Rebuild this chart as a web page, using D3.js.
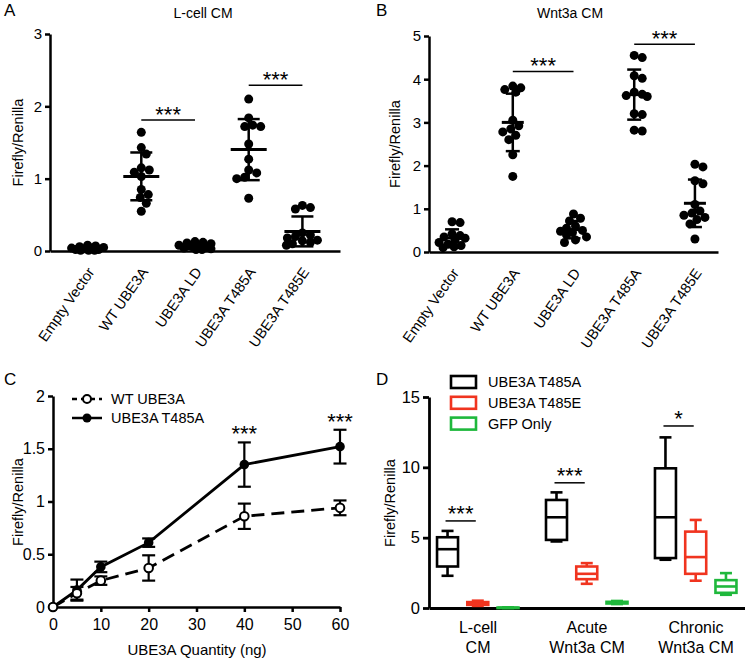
<!DOCTYPE html>
<html><head><meta charset="utf-8">
<script src="https://cdn.jsdelivr.net/npm/d3@7"></script>
<style>
body{margin:0;background:#fff;}
svg{display:block;font-family:"Liberation Sans",Arial,Helvetica,sans-serif;}
svg text{font-family:"Liberation Sans",Arial,Helvetica,sans-serif;}
</style></head><body>
<svg id="chart" width="745" height="659"></svg>
<script>
// ---------------- DATA ----------------
const categories = ["Empty Vector","WT UBE3A","UBE3A LD","UBE3A T485A","UBE3A T485E"];
// Panel A: L-cell CM
const lcellEmpty  = [0.08,0.07,0.06,0.05,0.04,0.04,0.03,0.02,0.02,0.01,0.01,0.01];
const lcellWT     = [1.64,1.43,1.34,1.15,1.12,1.09,1.03,0.85,0.78,0.74,0.66,0.55];
const lcellLD     = [0.13,0.12,0.11,0.10,0.08,0.07,0.06,0.05,0.04,0.03,0.02,0.02];
const lcellT485A  = [2.10,1.84,1.74,1.72,1.72,1.48,1.27,1.12,1.08,1.02,1.00,0.73];
const lcellT485E  = [0.63,0.60,0.58,0.25,0.22,0.20,0.18,0.15,0.14,0.12,0.10,0.08];
const aTicks = [0,1,2,3];
const aSigPairs = [["WT UBE3A","UBE3A LD"],["UBE3A T485A","UBE3A T485E"]];
const aSigLevels = [1.81, 2.29];
// Panel B: Wnt3a CM
const wntEmpty  = [0.70,0.68,0.42,0.38,0.35,0.32,0.28,0.22,0.18,0.15,0.12,0.10];
const wntWT     = [3.84,3.80,3.76,3.70,3.05,2.92,2.85,2.78,2.70,2.60,2.25,1.75];
const wntLD     = [0.88,0.78,0.72,0.60,0.55,0.50,0.48,0.45,0.40,0.35,0.28,0.22];
const wntT485A  = [4.55,4.50,4.08,4.02,3.70,3.65,3.62,3.60,3.20,3.18,2.82,2.80];
const wntT485E  = [2.03,1.97,1.65,1.58,1.10,0.95,0.90,0.85,0.80,0.75,0.65,0.30];
const bTicks = [0,1,2,3,4,5];
const bSigPairs = [["WT UBE3A","UBE3A LD"],["UBE3A T485A","UBE3A T485E"]];
const bSigLevels = [4.18, 4.81];
// Panel C: dose response (mean ± SEM)
const quantities = [0,5,10,20,40,60];
const wtMean    = [0,0.13,0.25,0.37,0.86,0.94];
const wtErr     = [0,0.06,0.04,0.12,0.12,0.07];
const t485aMean = [0,0.16,0.38,0.61,1.35,1.52];
const t485aErr  = [0,0.10,0.05,0.04,0.21,0.16];
const cXTicks = [0,10,20,30,40,50,60];
const cYTicks = [0,0.5,1,1.5,2];
const cSigQuantities = [40,60];
const cSeriesNames = ["WT UBE3A","UBE3A T485A"];
// Panel D: box plots [min, q1, median, q3, max]
const dCategories = ["L-cell CM","Acute Wnt3a CM","Chronic Wnt3a CM"];
const dLabelLines = [["L-cell","CM"],["Acute","Wnt3a CM"],["Chronic","Wnt3a CM"]];
const dSeries = ["UBE3A T485A","UBE3A T485E","GFP Only"];
const dColors = ["#000000","#f0341f","#1fb83c"];
const dT485A = [[2.29,2.95,4.18,5.03,5.48],[4.73,4.84,6.45,7.68,8.22],[3.43,3.55,6.45,9.93,12.13]];
const dT485E = [[0.15,0.22,0.32,0.42,0.52],[1.72,2.05,2.43,2.95,3.19],[1.94,2.43,3.62,5.43,6.26]];
const dGFP   = [[0.00,0.01,0.02,0.03,0.05],[0.28,0.32,0.38,0.44,0.50],[0.94,1.08,1.53,1.98,2.48]];
const dYTicks = [0,5,10,15];
const dSigLabels = ["***","***","*"];
const dSigLevels = [6.19, 8.9, 12.94];

// ---------------- DRAW ----------------
const svg = d3.select("#chart");
svg.append("rect").attr("width",745).attr("height",659).attr("fill","#fff");
const R = 4.5;
const fmt = d => String(d);

function styleAxis(g, sw, fs){
  g.attr("font-family",null).attr("font-size",null);
  g.select(".domain").attr("stroke","#000").attr("stroke-width",sw);
  g.selectAll(".tick line").attr("stroke","#000").attr("stroke-width",sw);
  g.selectAll(".tick text").attr("font-size",fs).attr("fill","#000");
}

function swarm(vals, y, r, maxOff){
  const placed = [];
  const out = new Array(vals.length);
  const order = vals.map((v,i)=>i).sort((a,b)=>vals[b]-vals[a]);
  const minD = r*1.75;
  const cands = [0];
  for(let k=1;k<=maxOff;k++){cands.push(k,-k);}
  for(const i of order){
    const py = y(vals[i]);
    let best=0, bestD=-1, chosen=null;
    for(const c of cands){
      let d = Infinity;
      for(const p of placed){ d = Math.min(d, Math.hypot(c-p[0], py-p[1])); }
      if(d>=minD){chosen=c;break;}
      if(d>bestD){bestD=d;best=c;}
    }
    if(chosen===null) chosen=best;
    placed.push([chosen,py]);
    out[i]=chosen;
  }
  return out;
}

function scatterPanel(cfg){
  const g = svg.append("g");
  const x = d3.scalePoint().domain(categories).range(cfg.xRange).padding(cfg.pad);
  const y = d3.scaleLinear().domain([0,d3.max(cfg.ticks)]).range(cfg.yRange);
  const ya = g.append("g").attr("transform",`translate(${cfg.xRange[0]},0)`)
    .call(d3.axisLeft(y).tickValues(cfg.ticks).tickFormat(fmt).tickSize(5).tickSizeOuter(0).tickPadding(3));
  styleAxis(ya,2.5,15);
  const xa = g.append("g").attr("transform",`translate(0,${y(0)})`)
    .call(d3.axisBottom(x).tickSize(0).tickSizeOuter(0));
  styleAxis(xa,2.5,14.5);
  xa.selectAll(".tick text").attr("x",0).attr("y",0).attr("dy",0)
    .attr("text-anchor","end").attr("transform","translate(7,21) rotate(-55)");
  cfg.groups.forEach((vals,gi)=>{
    const cat = categories[gi];
    const cx = x(cat);
    const offs = swarm(vals,y,R,cfg.maxOff);
    g.append("g").selectAll("circle").data(vals).join("circle")
      .attr("cx",(d,i)=>cx+offs[i]).attr("cy",d=>y(d)).attr("r",R).attr("fill","#000");
    const m = d3.mean(vals), s = d3.deviation(vals);
    const lo = Math.max(m-s, 0), hi = m+s;
    const eg = g.append("g").attr("stroke","#000").attr("stroke-width",2.5);
    eg.append("line").attr("x1",cx).attr("x2",cx).attr("y1",y(lo)).attr("y2",y(hi));
    eg.append("line").attr("x1",cx-cfg.capHalf).attr("x2",cx+cfg.capHalf).attr("y1",y(lo)).attr("y2",y(lo));
    eg.append("line").attr("x1",cx-cfg.capHalf).attr("x2",cx+cfg.capHalf).attr("y1",y(hi)).attr("y2",y(hi));
    eg.append("line").attr("x1",cx-cfg.meanHalf).attr("x2",cx+cfg.meanHalf).attr("y1",y(m)).attr("y2",y(m)).attr("stroke-width",3);
  });
  cfg.sigPairs.forEach((p,i)=>{
    const x1 = x(p[0]), x2 = x(p[1]), yy = y(cfg.sigLevels[i]);
    g.append("line").attr("x1",x1).attr("x2",x2).attr("y1",yy).attr("y2",yy).attr("stroke","#000").attr("stroke-width",1.5);
    g.append("text").attr("x",(x1+x2)/2).attr("y",yy+2).attr("text-anchor","middle").attr("font-size",22).text("***");
  });
  g.append("text").attr("x",cfg.titleX).attr("y",18).attr("text-anchor","middle").attr("font-size",14).text(cfg.title);
  g.append("text").attr("transform",`translate(${cfg.ylabX},${(cfg.yRange[0]+cfg.yRange[1])/2}) rotate(-90)`)
    .attr("text-anchor","middle").attr("font-size",14.5).text("Firefly/Renilla");
  g.append("text").attr("x",cfg.letterX).attr("y",16).attr("font-size",17).text(cfg.letter);
}

scatterPanel({groups:[lcellEmpty,lcellWT,lcellLD,lcellT485A,lcellT485E], ticks:aTicks,
  xRange:[50,340], yRange:[251,34], pad:0.7, maxOff:16, meanHalf:18, capHalf:11,
  sigPairs:aSigPairs, sigLevels:aSigLevels, title:"L-cell CM", titleX:203, ylabX:23, letterX:4, letter:"A"});
scatterPanel({groups:[wntEmpty,wntWT,wntLD,wntT485A,wntT485E], ticks:bTicks,
  xRange:[429,718], yRange:[252,36], pad:0.38, maxOff:13, meanHalf:11, capHalf:7,
  sigPairs:bSigPairs, sigLevels:bSigLevels, title:"Wnt3a CM", titleX:570, ylabX:400, letterX:376, letter:"B"});

// ---------------- PANEL C ----------------
(function(){
  const g = svg.append("g");
  const x = d3.scaleLinear().domain([0,60]).range([53,340]);
  const y = d3.scaleLinear().domain([0,2]).range([607,396]);
  const ya = g.append("g").attr("transform","translate(53,0)")
    .call(d3.axisLeft(y).tickValues(cYTicks).tickFormat(fmt).tickSize(5).tickSizeOuter(0).tickPadding(3));
  styleAxis(ya,2.5,16);
  const xa = g.append("g").attr("transform","translate(0,607)")
    .call(d3.axisBottom(x).tickValues(cXTicks).tickFormat(fmt).tickSize(5).tickSizeOuter(0).tickPadding(7));
  styleAxis(xa,2.5,16);
  const series = [
    {name:cSeriesNames[0], mean:wtMean, err:wtErr, dash:"13,7", open:true},
    {name:cSeriesNames[1], mean:t485aMean, err:t485aErr, dash:null, open:false}
  ];
  const line = d3.line().x(d=>x(d[0])).y(d=>y(d[1]));
  series.slice().reverse().forEach(s=>{
    g.append("path").datum(quantities.map((q,i)=>[q,s.mean[i]])).attr("d",line)
      .attr("fill","none").attr("stroke","#000").attr("stroke-width",2.8).attr("stroke-dasharray",s.dash);
  });
  series.forEach(s=>{
    const eg = g.append("g").attr("stroke","#000").attr("stroke-width",2.2);
    quantities.forEach((q,i)=>{
      if(s.err[i]<=0) return;
      const cx=x(q), lo=y(s.mean[i]-s.err[i]), hi=y(s.mean[i]+s.err[i]);
      eg.append("line").attr("x1",cx).attr("x2",cx).attr("y1",lo).attr("y2",hi);
      eg.append("line").attr("x1",cx-6.5).attr("x2",cx+6.5).attr("y1",lo).attr("y2",lo);
      eg.append("line").attr("x1",cx-6.5).attr("x2",cx+6.5).attr("y1",hi).attr("y2",hi);
    });
  });
  series.slice().reverse().forEach(s=>{
    g.append("g").selectAll("circle").data(quantities).join("circle")
      .attr("cx",d=>x(d)).attr("cy",(d,i)=>y(s.mean[i])).attr("r",s.open?4.3:4.8)
      .attr("fill",s.open?"#fff":"#000").attr("stroke","#000").attr("stroke-width",s.open?2:0);
  });
  cSigQuantities.forEach(q=>{
    const i = quantities.indexOf(q);
    const top = Math.max(t485aMean[i]+t485aErr[i], wtMean[i]+wtErr[i]);
    g.append("text").attr("x",x(q)).attr("y",y(top)-1).attr("text-anchor","middle").attr("font-size",22).text("***");
  });
  series.forEach((s,i)=>{
    const ly = 399 + i*19;
    g.append("line").attr("x1",72).attr("x2",102).attr("y1",ly).attr("y2",ly).attr("stroke","#000")
      .attr("stroke-width",2.5).attr("stroke-dasharray",s.dash?"5,4":null);
    g.append("circle").attr("cx",87).attr("cy",ly).attr("r",s.open?4:4.5).attr("fill",s.open?"#fff":"#000")
      .attr("stroke","#000").attr("stroke-width",s.open?2:0);
    g.append("text").attr("x",111).attr("y",ly+5).attr("font-size",14.5).text(s.name);
  });
  g.append("text").attr("x",197).attr("y",655).attr("text-anchor","middle").attr("font-size",15).text("UBE3A Quantity (ng)");
  g.append("text").attr("transform","translate(23,502) rotate(-90)").attr("text-anchor","middle").attr("font-size",14.5).text("Firefly/Renilla");
  g.append("text").attr("x",4).attr("y",385).attr("font-size",17).text("C");
})();

// ---------------- PANEL D ----------------
(function(){
  const g = svg.append("g");
  const x = d3.scalePoint().domain(dCategories).range([429,745]).padding(0.45);
  const xs = d3.scalePoint().domain(dSeries).range([-30.5,30]);
  const y = d3.scaleLinear().domain([0,15]).range([608,397]);
  const ya = g.append("g").attr("transform","translate(429,0)")
    .call(d3.axisLeft(y).tickValues(dYTicks).tickFormat(fmt).tickSize(6).tickSizeOuter(0).tickPadding(3));
  styleAxis(ya,2.8,16.5);
  const xa = g.append("g").attr("transform","translate(0,608)")
    .call(d3.axisBottom(x).tickSize(0).tickSizeOuter(0).tickFormat(""));
  styleAxis(xa,2.8,16);
  dCategories.forEach((c,i)=>{
    dLabelLines[i].forEach((t,j)=>{
      g.append("text").attr("x",x(c)).attr("y",633+j*20).attr("text-anchor","middle").attr("font-size",16).text(t);
    });
  });
  const boxes = [dT485A,dT485E,dGFP];
  const bw = 21, cap = 6;
  boxes.forEach((arr,si)=>{
    const col = dColors[si];
    arr.forEach((st,ci)=>{
      const cx = x(dCategories[ci]) + xs(dSeries[si]);
      const bg = g.append("g").attr("stroke",col).attr("stroke-width",2.6).attr("fill","none");
      bg.append("line").attr("x1",cx).attr("x2",cx).attr("y1",y(st[0])).attr("y2",y(st[1]));
      bg.append("line").attr("x1",cx).attr("x2",cx).attr("y1",y(st[3])).attr("y2",y(st[4]));
      bg.append("line").attr("x1",cx-cap).attr("x2",cx+cap).attr("y1",y(st[0])).attr("y2",y(st[0]));
      bg.append("line").attr("x1",cx-cap).attr("x2",cx+cap).attr("y1",y(st[4])).attr("y2",y(st[4]));
      bg.append("rect").attr("x",cx-bw/2).attr("width",bw).attr("y",y(st[3])).attr("height",Math.max(y(st[1])-y(st[3]),0.5));
      bg.append("line").attr("x1",cx-bw/2).attr("x2",cx+bw/2).attr("y1",y(st[2])).attr("y2",y(st[2]));
    });
  });
  dCategories.forEach((c,i)=>{
    const x1 = x(c)+xs(dSeries[0]), x2 = x(c)+xs(dSeries[1]), yy = y(dSigLevels[i]);
    g.append("line").attr("x1",x1-2).attr("x2",x2-2).attr("y1",yy).attr("y2",yy).attr("stroke","#000").attr("stroke-width",1.5);
    g.append("text").attr("x",(x1+x2)/2-2).attr("y",yy).attr("text-anchor","middle").attr("font-size",22).text(dSigLabels[i]);
  });
  dSeries.forEach((s,i)=>{
    const ly = 382 + i*20.8;
    g.append("rect").attr("x",451).attr("y",ly-6).attr("width",25).attr("height",12)
      .attr("fill","none").attr("stroke",dColors[i]).attr("stroke-width",2.6);
    g.append("text").attr("x",488).attr("y",ly+5).attr("font-size",14.5).text(s);
  });
  g.append("text").attr("transform","translate(395,503) rotate(-90)").attr("text-anchor","middle").attr("font-size",14.5).text("Firefly/Renilla");
  g.append("text").attr("x",376).attr("y",385).attr("font-size",17).text("D");
})();
</script>
</body></html>
